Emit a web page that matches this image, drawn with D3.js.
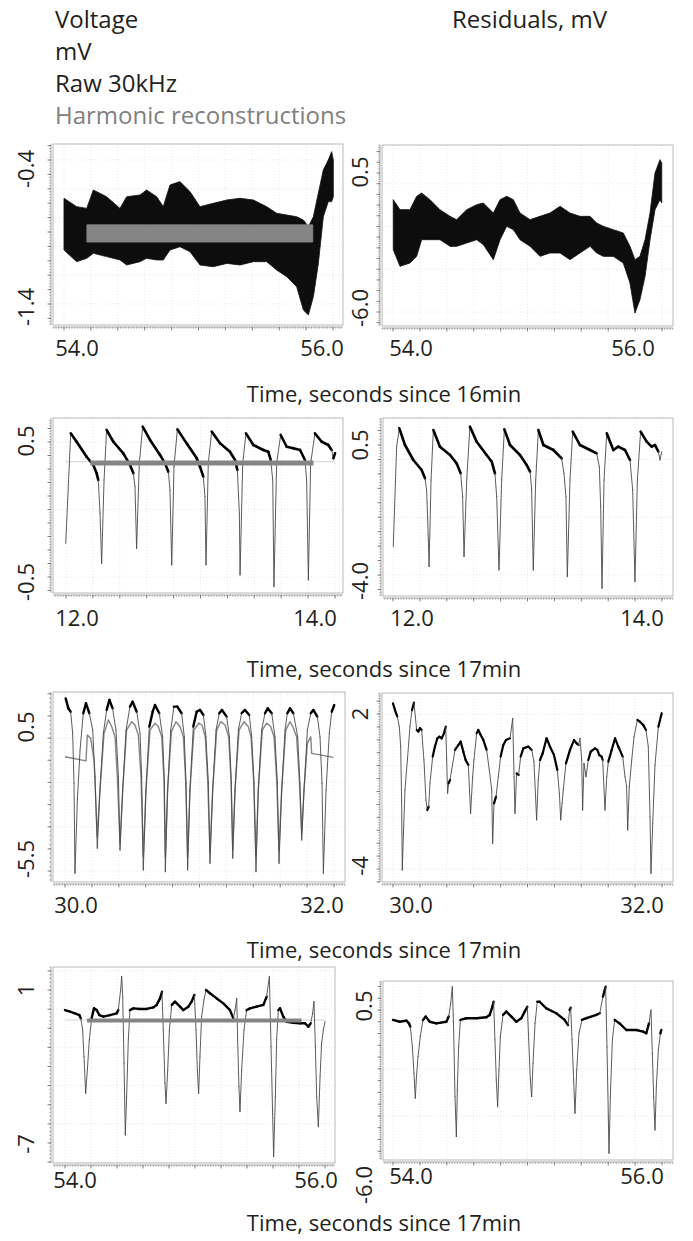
<!DOCTYPE html>
<html>
<head>
<meta charset="utf-8">
<script src="https://cdn.jsdelivr.net/npm/d3@7"></script>
<style>
  body { margin: 0; background: #fff; }
  text { font-family: "Open Sans", sans-serif; fill: #231f20; }
</style>
</head>
<body>
<svg id="chart"></svg>
<script>
// ---- data (mV vs seconds) ----
// row 1, raw 30kHz envelope and harmonic band
const rawA_t = [54.000, 54.094, 54.169, 54.218, 54.317, 54.416, 54.466, 54.565, 54.614, 54.689, 54.738, 54.788, 54.862, 54.937, 55.011, 55.110, 55.210, 55.309, 55.408, 55.507, 55.581, 55.656, 55.730, 55.780, 55.817, 55.854, 55.891, 55.928, 55.965, 55.990, 56.002];
const rawA_hi = [-0.666, -0.724, -0.736, -0.608, -0.655, -0.736, -0.655, -0.643, -0.608, -0.655, -0.724, -0.574, -0.550, -0.620, -0.724, -0.701, -0.678, -0.666, -0.678, -0.724, -0.770, -0.782, -0.794, -0.817, -0.863, -0.794, -0.631, -0.469, -0.400, -0.342, -0.400];
const rawA_lo = [-1.025, -1.106, -1.083, -1.048, -1.071, -1.094, -1.129, -1.106, -1.083, -1.094, -1.094, -1.025, -1.002, -1.037, -1.129, -1.141, -1.118, -1.129, -1.106, -1.106, -1.164, -1.210, -1.280, -1.442, -1.476, -1.349, -1.118, -0.794, -0.689, -0.689, -0.655];
const harmA_t = [54.17, 54.60, 55.00, 55.40, 55.85];
const harmA_hi = [-0.85, -0.85, -0.85, -0.85, -0.85];
const harmA_lo = [-0.97, -0.97, -0.97, -0.97, -0.97];

// row 1, residual envelope
const resB_t = [54.002, 54.052, 54.126, 54.176, 54.213, 54.275, 54.349, 54.424, 54.473, 54.548, 54.622, 54.672, 54.746, 54.796, 54.845, 54.895, 54.944, 55.019, 55.093, 55.167, 55.242, 55.316, 55.390, 55.465, 55.514, 55.564, 55.638, 55.712, 55.762, 55.799, 55.836, 55.874, 55.911, 55.948, 55.985, 55.998];
const resB_hi = [-0.747, -1.215, -1.215, -0.591, -0.435, -0.747, -1.215, -1.527, -1.682, -1.215, -0.981, -0.903, -1.371, -0.747, -0.591, -0.747, -1.371, -1.682, -1.527, -1.371, -1.059, -1.371, -1.527, -1.527, -1.838, -1.994, -2.150, -2.306, -2.930, -3.553, -3.397, -2.618, -1.371, 0.500, 1.124, 0.968];
const resB_lo = [-3.085, -3.865, -3.709, -3.397, -2.618, -2.618, -2.618, -2.930, -2.930, -2.774, -2.618, -2.852, -3.553, -2.618, -1.994, -2.150, -2.618, -2.930, -3.397, -3.241, -3.241, -3.553, -3.241, -2.930, -3.241, -3.397, -3.397, -3.709, -4.644, -6.047, -5.424, -4.332, -2.618, -1.215, -0.747, -0.903];

// row 2
const rawC_t = [11.998, 12.035, 12.079, 12.153, 12.203, 12.228, 12.240, 12.253, 12.265, 12.283, 12.302, 12.352, 12.426, 12.476, 12.501, 12.513, 12.525, 12.545, 12.570, 12.625, 12.699, 12.736, 12.761, 12.773, 12.786, 12.803, 12.828, 12.897, 12.972, 12.996, 13.021, 13.033, 13.041, 13.058, 13.083, 13.145, 13.219, 13.257, 13.274, 13.289, 13.294, 13.314, 13.338, 13.393, 13.467, 13.504, 13.522, 13.537, 13.546, 13.566, 13.596, 13.641, 13.690, 13.740, 13.777, 13.789, 13.802, 13.819, 13.851, 13.901, 13.950, 13.975, 13.988, 14.000];
const rawC_v = [-0.251, 0.564, 0.502, 0.391, 0.330, 0.268, 0.219, -0.028, -0.399, 0.219, 0.589, 0.502, 0.416, 0.330, 0.268, 0.169, -0.288, 0.342, 0.614, 0.515, 0.404, 0.342, 0.280, 0.144, -0.411, 0.317, 0.594, 0.490, 0.379, 0.317, 0.243, 0.095, -0.411, 0.342, 0.577, 0.490, 0.428, 0.367, 0.293, -0.028, -0.485, 0.342, 0.564, 0.478, 0.441, 0.428, 0.367, 0.219, -0.572, 0.342, 0.552, 0.465, 0.453, 0.441, 0.367, 0.219, -0.522, 0.342, 0.564, 0.502, 0.478, 0.441, 0.379, 0.416];
const harmC_t = [12.18, 12.60, 13.00, 13.40, 13.84];
const harmC_v = [0.345, 0.345, 0.345, 0.345, 0.345];
const harmCext_t = [11.998, 14.0];
const harmCext_v = [0.354, 0.354];

const resD_t = [12.002, 12.027, 12.047, 12.089, 12.151, 12.213, 12.238, 12.250, 12.263, 12.268, 12.283, 12.300, 12.349, 12.424, 12.473, 12.503, 12.518, 12.528, 12.548, 12.572, 12.622, 12.696, 12.734, 12.758, 12.771, 12.788, 12.808, 12.828, 12.870, 12.944, 12.994, 13.019, 13.031, 13.043, 13.061, 13.081, 13.118, 13.192, 13.254, 13.271, 13.286, 13.296, 13.316, 13.336, 13.390, 13.465, 13.514, 13.534, 13.544, 13.554, 13.569, 13.589, 13.638, 13.675, 13.725, 13.762, 13.782, 13.799, 13.817, 13.841, 13.886, 13.923, 13.948, 13.973, 13.985, 13.998];
const resD_v = [-3.019, 0.442, 1.077, 0.500, -0.019, -0.365, -0.654, -1.058, -2.788, -3.711, -0.712, 1.019, 0.442, 0.154, -0.135, -0.481, -1.288, -3.365, -0.712, 1.135, 0.615, 0.154, -0.077, -0.481, -1.288, -3.827, -0.712, 1.042, 0.500, 0.154, -0.192, -0.423, -1.058, -3.827, -0.712, 1.019, 0.500, 0.327, 0.038, -0.481, -1.288, -4.058, -0.712, 0.962, 0.500, 0.327, 0.212, -0.250, -1.635, -4.461, -0.712, 0.904, 0.327, 0.442, 0.327, -0.019, -1.058, -4.231, -0.712, 0.962, 0.615, 0.442, 0.500, 0.269, -0.019, 0.269];

// row 3
const rawE_t = [30.005, 30.025, 30.042, 30.057, 30.067, 30.074, 30.092, 30.112, 30.136, 30.156, 30.181, 30.206, 30.223, 30.240, 30.260, 30.285, 30.310, 30.330, 30.354, 30.379, 30.397, 30.409, 30.429, 30.454, 30.483, 30.503, 30.533, 30.558, 30.570, 30.582, 30.602, 30.627, 30.652, 30.669, 30.701, 30.726, 30.739, 30.746, 30.763, 30.786, 30.810, 30.835, 30.867, 30.887, 30.900, 30.912, 30.929, 30.954, 30.979, 31.004, 31.029, 31.048, 31.066, 31.078, 31.098, 31.123, 31.147, 31.167, 31.202, 31.222, 31.237, 31.247, 31.264, 31.289, 31.313, 31.338, 31.370, 31.388, 31.405, 31.420, 31.437, 31.462, 31.487, 31.507, 31.537, 31.561, 31.579, 31.591, 31.611, 31.636, 31.653, 31.673, 31.698, 31.730, 31.747, 31.760, 31.777, 31.802, 31.827, 31.846, 31.876, 31.896, 31.911, 31.921, 31.941, 31.965, 31.983, 32.002];
const rawE_v = [1.79, 1.34, 1.19, 0.22, -2.04, -6.10, -2.79, -0.54, 1.12, 1.57, 1.12, 0.36, -1.74, -4.97, -2.34, 0.21, 1.27, 1.72, 1.34, 0.36, -1.74, -5.05, -2.34, 0.36, 1.42, 1.64, 1.19, 0.21, -1.74, -5.95, -2.34, 0.52, 1.19, 1.49, 1.12, 0.06, -2.04, -6.03, -2.34, 0.36, 1.42, 1.42, 1.12, 0.06, -2.04, -5.95, -2.34, 0.52, 1.19, 1.27, 1.04, 0.06, -2.04, -5.65, -2.34, 0.36, 1.12, 1.27, 0.97, 0.06, -2.04, -5.42, -2.34, 0.36, 1.12, 1.27, 1.04, 0.06, -2.04, -6.03, -2.34, 0.36, 1.12, 1.34, 1.12, 0.06, -2.04, -5.65, -2.34, 0.36, 1.12, 1.34, 1.12, 0.06, -2.04, -4.60, -2.34, 0.36, 1.12, 1.27, 0.97, 0.06, -2.04, -6.10, -2.34, 0.21, 1.19, 1.49];
const harmE_t = [30.000, 30.156, 30.166, 30.191, 30.216, 30.240, 30.260, 30.290, 30.322, 30.347, 30.372, 30.389, 30.409, 30.429, 30.458, 30.496, 30.520, 30.545, 30.565, 30.582, 30.602, 30.632, 30.669, 30.694, 30.719, 30.736, 30.746, 30.763, 30.791, 30.825, 30.855, 30.880, 30.897, 30.912, 30.929, 30.959, 30.994, 31.019, 31.043, 31.061, 31.078, 31.098, 31.128, 31.157, 31.190, 31.217, 31.234, 31.247, 31.264, 31.294, 31.331, 31.363, 31.383, 31.403, 31.420, 31.437, 31.467, 31.499, 31.529, 31.554, 31.574, 31.591, 31.611, 31.641, 31.673, 31.693, 31.722, 31.742, 31.760, 31.777, 31.802, 31.827, 31.834, 31.995];
const harmE_v = [-0.84, -1.03, 0.14, -0.01, -0.99, -4.45, -2.34, 0.21, 0.82, 0.52, 0.06, -1.74, -4.75, -2.34, 0.36, 0.74, 0.59, 0.14, -1.74, -5.35, -2.34, 0.36, 0.67, 0.52, 0.06, -1.89, -5.35, -2.34, 0.29, 0.74, 0.52, 0.06, -1.89, -5.35, -2.34, 0.36, 0.67, 0.59, 0.06, -1.89, -5.20, -2.34, 0.36, 0.74, 0.59, 0.06, -1.89, -5.05, -2.34, 0.36, 0.74, 0.52, 0.06, -1.89, -5.35, -2.34, 0.36, 0.67, 0.52, 0.06, -1.89, -5.05, -2.34, 0.36, 0.74, 0.52, 0.06, -1.89, -4.30, -2.34, -0.24, 0.06, -0.69, -0.87];

const resF_t = [30.000, 30.015, 30.032, 30.047, 30.057, 30.064, 30.069, 30.077, 30.089, 30.107, 30.126, 30.141, 30.156, 30.166, 30.176, 30.188, 30.201, 30.213, 30.230, 30.245, 30.255, 30.265, 30.275, 30.295, 30.312, 30.330, 30.344, 30.362, 30.379, 30.392, 30.399, 30.406, 30.414, 30.424, 30.436, 30.461, 30.486, 30.503, 30.523, 30.540, 30.560, 30.577, 30.592, 30.602, 30.622, 30.634, 30.652, 30.672, 30.696, 30.716, 30.734, 30.741, 30.751, 30.766, 30.783, 30.800, 30.820, 30.840, 30.870, 30.890, 30.900, 30.907, 30.919, 30.934, 30.949, 30.969, 31.006, 31.031, 31.048, 31.068, 31.080, 31.093, 31.113, 31.142, 31.167, 31.197, 31.222, 31.237, 31.247, 31.257, 31.266, 31.286, 31.316, 31.346, 31.366, 31.380, 31.390, 31.403, 31.410, 31.420, 31.435, 31.452, 31.470, 31.502, 31.519, 31.534, 31.551, 31.559, 31.576, 31.589, 31.601, 31.626, 31.651, 31.675, 31.708, 31.725, 31.737, 31.745, 31.757, 31.775, 31.792, 31.817, 31.836, 31.861, 31.881, 31.898, 31.911, 31.918, 31.931, 31.948, 31.973, 31.998];
const resF_v = [2.41, 2.15, 1.90, 1.51, 0.74, -1.33, -4.04, -2.75, -0.94, 0.22, 1.51, 2.15, 2.44, 1.90, 1.38, 1.32, 1.45, 1.38, 0.22, -1.33, -1.72, -1.59, -0.68, 0.35, 0.74, 1.06, 1.12, 1.06, 1.25, 1.51, 0.22, -1.07, -0.68, -0.55, -0.17, 0.61, 0.80, 0.93, 0.54, 0.22, 0.03, -1.85, -0.43, 0.22, 1.25, 1.38, 1.19, 0.99, 0.61, -0.17, -0.94, -3.01, -1.46, -1.20, -0.43, 0.35, 0.80, 0.99, 1.06, 1.83, -0.43, -1.85, -0.30, -0.36, 0.35, 0.67, 0.74, 0.61, 0.15, -2.10, -0.55, 0.22, 0.48, 1.06, 0.74, 0.41, -0.17, -1.07, -2.10, -1.46, -0.94, 0.09, 0.61, 0.99, 0.86, 0.80, 1.06, 0.22, -1.72, 0.09, -0.43, 0.22, 0.54, 0.67, 0.61, 0.41, 0.35, 0.22, -1.72, -0.43, 0.15, 0.61, 1.06, 0.74, 0.35, -0.43, -0.81, -2.49, -0.81, 0.22, 1.12, 1.77, 1.70, 1.57, 1.38, 0.74, -1.97, -4.17, -2.23, 0.03, 1.51, 2.03];

// row 4
const rawG_t = [54.000, 54.038, 54.077, 54.110, 54.121, 54.136, 54.146, 54.159, 54.172, 54.187, 54.205, 54.223, 54.244, 54.264, 54.295, 54.346, 54.397, 54.410, 54.428, 54.436, 54.444, 54.454, 54.464, 54.474, 54.487, 54.500, 54.526, 54.577, 54.628, 54.679, 54.705, 54.731, 54.746, 54.756, 54.769, 54.777, 54.790, 54.803, 54.821, 54.846, 54.885, 54.910, 54.949, 54.974, 54.995, 55.008, 55.018, 55.028, 55.038, 55.051, 55.069, 55.085, 55.115, 55.167, 55.218, 55.269, 55.295, 55.308, 55.321, 55.328, 55.338, 55.346, 55.359, 55.377, 55.397, 55.423, 55.474, 55.526, 55.551, 55.572, 55.585, 55.597, 55.605, 55.618, 55.628, 55.641, 55.654, 55.679, 55.705, 55.756, 55.808, 55.846, 55.872, 55.890, 55.905, 55.915, 55.926, 55.936, 55.949, 55.962, 55.974, 55.987, 56.000];
const rawG_v = [-0.05, -0.13, -0.22, -0.31, -0.48, -1.09, -2.49, -4.40, -3.18, -1.61, -0.48, 0.04, -0.05, -0.31, -0.39, -0.31, -0.22, -0.05, 1.00, 1.70, 0.65, -2.83, -6.58, -4.58, -1.61, -0.05, 0.04, 0.01, 0.01, 0.09, 0.22, 0.56, 0.91, -1.09, -3.88, -4.93, -3.18, -1.09, 0.22, 0.39, 0.13, -0.05, 0.13, 0.39, 0.74, -1.09, -3.18, -4.40, -2.49, -0.39, 0.48, 1.00, 0.83, 0.56, 0.30, -0.05, -0.48, -0.05, 0.56, -1.61, -4.05, -5.36, -3.18, -1.09, -0.05, 0.04, 0.13, 0.22, 0.65, 1.70, -1.96, -5.45, -7.71, -4.58, -1.61, -0.05, 0.04, -0.39, -0.66, -0.71, -0.74, -0.74, -0.92, -0.74, -0.22, 0.39, -1.96, -4.58, -6.15, -3.53, -1.79, -1.09, -0.66];
const harmG_t = [54.17, 54.60, 55.00, 55.40, 55.82];
const harmG_v = [-0.59, -0.59, -0.59, -0.59, -0.59];
const harmGext_t = [54.0, 56.0];
const harmGext_v = [-0.57, -0.57];

const resH_t = [54.000, 54.050, 54.099, 54.119, 54.129, 54.144, 54.156, 54.166, 54.173, 54.186, 54.203, 54.223, 54.243, 54.273, 54.322, 54.397, 54.414, 54.429, 54.441, 54.451, 54.461, 54.471, 54.478, 54.488, 54.501, 54.545, 54.620, 54.694, 54.719, 54.739, 54.748, 54.758, 54.768, 54.778, 54.788, 54.798, 54.818, 54.843, 54.880, 54.917, 54.954, 54.979, 54.999, 55.009, 55.021, 55.031, 55.041, 55.056, 55.073, 55.090, 55.140, 55.214, 55.276, 55.301, 55.313, 55.321, 55.331, 55.343, 55.353, 55.366, 55.383, 55.405, 55.437, 55.512, 55.537, 55.561, 55.581, 55.591, 55.601, 55.606, 55.616, 55.631, 55.648, 55.685, 55.735, 55.809, 55.859, 55.883, 55.903, 55.918, 55.928, 55.938, 55.948, 55.958, 55.973, 55.988, 55.995];
const resH_v = [0.08, 0.00, 0.05, -0.07, -0.21, -1.06, -2.19, -3.25, -2.47, -1.48, -0.63, 0.08, 0.22, 0.00, -0.07, 0.00, 0.22, 0.78, 1.49, -0.35, -3.18, -4.88, -2.90, -1.06, 0.08, 0.15, 0.15, 0.19, 0.29, 0.64, 0.85, -0.77, -2.47, -3.61, -2.05, -0.63, 0.29, 0.43, 0.22, 0.00, 0.15, 0.43, 0.64, -0.77, -2.47, -3.18, -1.77, -0.07, 0.85, 0.85, 0.57, 0.36, 0.08, -0.14, 0.50, 0.60, -0.77, -2.47, -3.89, -2.05, -0.49, 0.08, 0.15, 0.29, 0.36, 1.07, 1.49, -1.06, -4.03, -5.59, -3.18, -0.77, 0.08, -0.07, -0.35, -0.35, -0.42, -0.49, -0.07, 0.50, -1.34, -3.18, -4.60, -2.76, -1.20, -0.49, -0.35];

// tick labels
const xTicks16 = [54, 56], xTicks12 = [12, 14], xTicks30 = [30, 32];
const yTicksA = [-0.4, -1.4], yLabelsA = ["-0.4", "-1.4"];
const yTicksB = [0.5, -6.0], yLabelsB = ["0.5", "-6.0"];
const yTicksC = [0.5, -0.5], yLabelsC = ["0.5", "-0.5"];
const yTicksD = [0.5, -4.0], yLabelsD = ["0.5", "-4.0"];
const yTicksE = [0.5, -5.5], yLabelsE = ["0.5", "-5.5"];
const yTicksF = [2, -4], yLabelsF = ["2", "-4"];
const yTicksG = [1, -7], yLabelsG = ["1", "-7"];
const yTicksH = [0.5, -6.0], yLabelsH = ["0.5", "-6.0"];

const headerLeft = ["Voltage", "mV", "Raw 30kHz", "Harmonic reconstructions"];
const headerRight = "Residuals, mV";
const xTitles = ["Time, seconds since 16min", "Time, seconds since 17min", "Time, seconds since 17min", "Time, seconds since 17min"];

// ---- layout ----
const width = 693, height = 1241;
const svg = d3.select("#chart").attr("width", width).attr("height", height);
const fmt = d3.format(".1f");

// soft edge for the dense noise envelopes
svg.append("defs").append("filter").attr("id", "soft")
  .append("feGaussianBlur").attr("stdDeviation", 0.7);

function panel(p) {
  const x = d3.scaleLinear().domain(p.xd).range(p.xr);
  const y = d3.scaleLinear().domain(p.yd).range(p.yr);
  const [bx0, bx1, by0, by1] = p.box;
  const xb = d3.scaleLinear().domain([x.invert(bx0), x.invert(bx1)]).range([bx0, bx1]);
  const yb = d3.scaleLinear().domain([y.invert(by1), y.invert(by0)]).range([by1, by0]);
  const g = svg.append("g");

  // faint dotted grid
  g.append("g").selectAll("line").data(xb.ticks(10)).join("line")
    .attr("x1", d => x(d)).attr("x2", d => x(d)).attr("y1", by0).attr("y2", by1)
    .attr("stroke", "#e2e2e2").attr("stroke-width", 0.8).attr("stroke-dasharray", "1,2");
  g.append("g").selectAll("line").data(yb.ticks(4)).join("line")
    .attr("x1", bx0).attr("x2", bx1).attr("y1", d => y(d)).attr("y2", d => y(d))
    .attr("stroke", "#e2e2e2").attr("stroke-width", 0.8).attr("stroke-dasharray", "1,2");

  // box
  g.append("rect").attr("x", bx0).attr("y", by0).attr("width", bx1 - bx0).attr("height", by1 - by0)
    .attr("fill", "none").attr("stroke", "#a8a8a8").attr("stroke-width", 0.8);

  // bottom axis with minor ticks
  const ax = by1 + 2;
  g.append("line").attr("x1", bx0).attr("x2", bx1).attr("y1", ax).attr("y2", ax)
    .attr("stroke", "#777").attr("stroke-width", 0.6);
  g.append("g").selectAll("line").data(xb.ticks(100)).join("line")
    .attr("x1", d => x(d)).attr("x2", d => x(d)).attr("y1", ax).attr("y2", ax + 1.8)
    .attr("stroke", "#666").attr("stroke-width", 0.5);
  g.append("g").selectAll("line").data(xb.ticks(10)).join("line")
    .attr("x1", d => x(d)).attr("x2", d => x(d)).attr("y1", ax).attr("y2", ax + 3.5)
    .attr("stroke", "#555").attr("stroke-width", 0.7);

  // left axis with minor ticks
  const ay = bx0 - 2;
  g.append("line").attr("x1", ay).attr("x2", ay).attr("y1", by0).attr("y2", by1)
    .attr("stroke", "#777").attr("stroke-width", 0.6);
  g.append("g").selectAll("line").data(yb.ticks(60)).join("line")
    .attr("x1", ay - 1.8).attr("x2", ay).attr("y1", d => y(d)).attr("y2", d => y(d))
    .attr("stroke", "#666").attr("stroke-width", 0.5);
  g.append("g").selectAll("line").data(yb.ticks(12)).join("line")
    .attr("x1", ay - 3.5).attr("x2", ay).attr("y1", d => y(d)).attr("y2", d => y(d))
    .attr("stroke", "#555").attr("stroke-width", 0.7);

  // tick labels
  g.append("g").selectAll("text").data(p.xt).join("text")
    .attr("x", (d, i) => x(d) + p.xdx[i]).attr("y", p.xly).attr("dy", "0.35em")
    .attr("text-anchor", "middle").style("font-size", "22px")
    .text(d => fmt(d));
  g.append("g").selectAll("text").data(p.yt).join("text")
    .attr("transform", (d, i) => `translate(${p.ylx},${y(d) + p.ydy[i]})rotate(-90)`)
    .attr("dy", "0.35em").attr("text-anchor", "middle").style("font-size", "22px")
    .text((d, i) => p.yl[i]);

  // clip for traces
  const cid = "clip" + p.id;
  svg.append("clipPath").attr("id", cid).append("rect")
    .attr("x", bx0).attr("y", by0).attr("width", bx1 - bx0).attr("height", by1 - by0);
  const plot = svg.append("g").attr("clip-path", `url(#${cid})`);
  return { x, y, plot };
}

function band(P, t, hi, lo, color, soft) {
  const area = d3.area()
    .x((d, i) => P.x(t[i])).y0((d, i) => P.y(lo[i])).y1((d, i) => P.y(hi[i]));
  const path = P.plot.append("path").datum(t).attr("d", area)
    .attr("fill", color).attr("stroke", color).attr("stroke-width", 0.8);
  if (soft) path.attr("filter", "url(#soft)");
}

function trace(P, t, v, color, w) {
  const line = d3.line().x((d, i) => P.x(t[i])).y((d, i) => P.y(v[i]))
    .defined((d, i) => v[i] !== undefined);
  P.plot.append("path").datum(t).attr("d", line)
    .attr("fill", "none").attr("stroke", color).attr("stroke-width", w)
    .attr("stroke-linejoin", "round");
}

// noisy recording: flat stretches look thick, fast swings are thin and pale
function signal(P, t, v, wThick) {
  const segs = d3.range(t.length - 1).map(i => ({
    x1: P.x(t[i]), y1: P.y(v[i]), x2: P.x(t[i + 1]), y2: P.y(v[i + 1])
  }));
  const steep = s => Math.abs(s.y2 - s.y1) > 4.5 * Math.max(0.5, Math.abs(s.x2 - s.x1));
  P.plot.append("g").selectAll("line").data(segs).join("line")
    .attr("x1", s => s.x1).attr("y1", s => s.y1).attr("x2", s => s.x2).attr("y2", s => s.y2)
    .attr("stroke", s => steep(s) ? "#4a4a4a" : "#000")
    .attr("stroke-width", s => steep(s) ? 0.9 : wThick)
    .attr("stroke-linecap", "round");
}

const gray = "#858585";

// row 1
const A = panel({ id: "A", xd: [54, 56], xr: [64, 333], yd: [-0.4, -1.4], yr: [160, 304], box: [53, 343, 144, 325],
  xt: xTicks16, xdx: [13, -11], xly: 348, yt: yTicksA, yl: yLabelsA, ylx: 26, ydy: [9, 3] });
band(A, rawA_t, rawA_hi, rawA_lo, "#0a0a0a", true);
band(A, harmA_t, harmA_hi, harmA_lo, gray, false);

const B = panel({ id: "B", xd: [54, 56], xr: [393, 662], yd: [0.5, -6.0], yr: [173, 312], box: [382, 673, 145, 326],
  xt: xTicks16, xdx: [18, -29], xly: 348, yt: yTicksB, yl: yLabelsB, ylx: 360, ydy: [-1, -4] });
band(B, resB_t, resB_hi, resB_lo, "#0a0a0a", true);

// row 2
const C = panel({ id: "C", xd: [12, 14], xr: [66, 335], yd: [0.5, -0.5], yr: [442, 577], box: [53, 343, 418, 593],
  xt: xTicks12, xdx: [11, -20], xly: 618, yt: yTicksC, yl: yLabelsC, ylx: 26, ydy: [-1, 5] });
trace(C, harmCext_t, harmCext_v, "#c8c8c8", 0.8);
signal(C, rawC_t, rawC_v, 2.6);
trace(C, harmC_t, harmC_v, gray, 5);

const D = panel({ id: "D", xd: [12, 14], xr: [393, 662], yd: [0.5, -4.0], yr: [445, 575], box: [383, 673, 418, 596],
  xt: xTicks12, xdx: [19, -20], xly: 618, yt: yTicksD, yl: yLabelsD, ylx: 360, ydy: [0, 6] });
signal(D, resD_t, resD_v, 2.6);

// row 3
const E = panel({ id: "E", xd: [30, 32], xr: [65, 334], yd: [0.5, -5.5], yr: [727, 860], box: [53, 345, 692, 882],
  xt: xTicks30, xdx: [11, -12], xly: 905, yt: yTicksE, yl: yLabelsE, ylx: 26, ydy: [0, -1] });
trace(E, harmE_t, harmE_v, gray, 1.4);
signal(E, rawE_t, rawE_v, 2.4);

const F = panel({ id: "F", xd: [30, 32], xr: [393, 662], yd: [2, -4], yr: [714, 869], box: [382, 673, 693, 882],
  xt: xTicks30, xdx: [18, -20], xly: 905, yt: yTicksF, yl: yLabelsF, ylx: 360, ydy: [0, -3] });
signal(F, resF_t, resF_v, 2.2);

// row 4
const G = panel({ id: "G", xd: [54, 56], xr: [65, 325], yd: [1, -7], yr: [990, 1143], box: [53, 335, 967, 1163],
  xt: xTicks16, xdx: [10, -9], xly: 1180, yt: yTicksG, yl: yLabelsG, ylx: 26, ydy: [0, 1] });
trace(G, harmGext_t, harmGext_v, "#c8c8c8", 0.8);
signal(G, rawG_t, rawG_v, 2.4);
trace(G, harmG_t, harmG_v, gray, 4);

const H = panel({ id: "H", xd: [54, 56], xr: [393, 662], yd: [0.5, -6.0], yr: [1010, 1163], box: [383, 673, 981, 1160],
  xt: xTicks16, xdx: [18, -20], xly: 1176, yt: yTicksH, yl: yLabelsH, ylx: 364, ydy: [-4, 22] });
signal(H, resH_t, resH_v, 2.4);

// headers and axis titles
svg.append("g").selectAll("text").data(headerLeft).join("text")
  .attr("x", 55).attr("y", (d, i) => 20 + i * 32).attr("dy", "0.35em")
  .style("font-size", "24px")
  .style("fill", (d, i) => i === 3 ? "#808080" : "#231f20")
  .text(d => d);
svg.append("text").attr("x", 452).attr("y", 20).attr("dy", "0.35em")
  .style("font-size", "24px").text(headerRight);

const titleY = [394, 669, 950, 1223];
svg.append("g").selectAll("text").data(xTitles).join("text")
  .attr("x", 384).attr("y", (d, i) => titleY[i]).attr("dy", "0.35em")
  .attr("text-anchor", "middle").style("font-size", "22px")
  .text(d => d);
</script>
</body>
</html>
